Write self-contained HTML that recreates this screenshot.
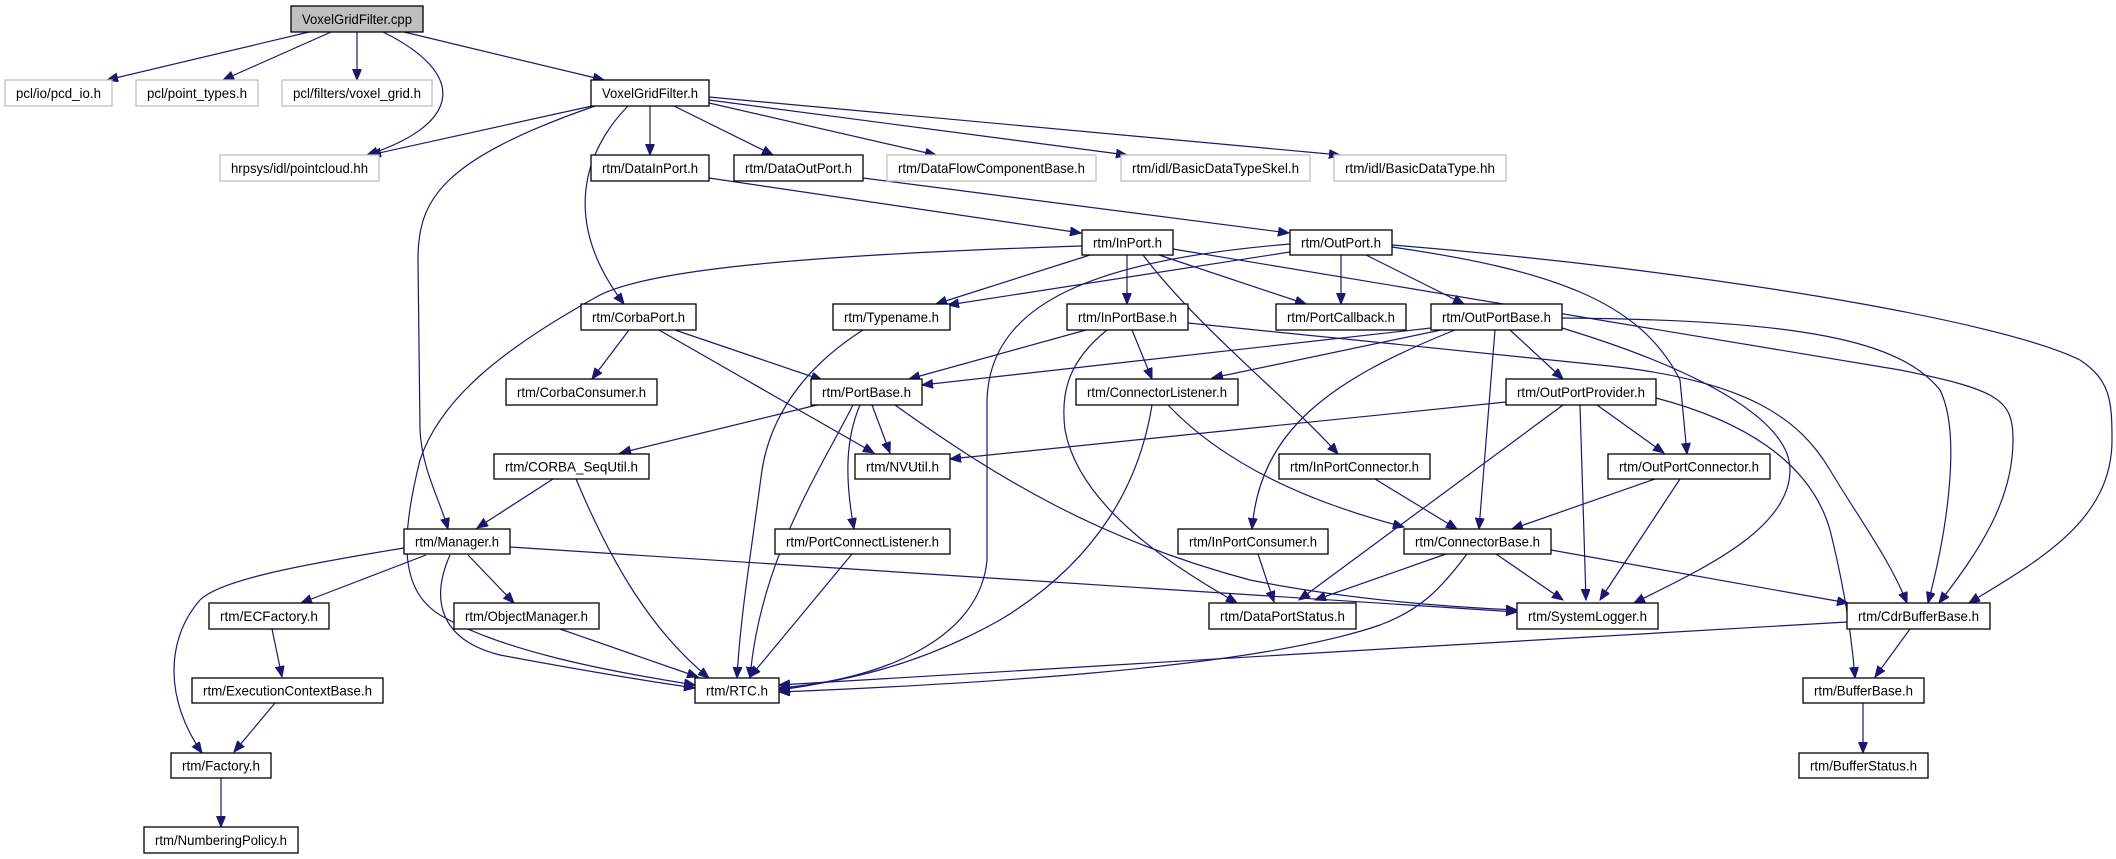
<!DOCTYPE html>
<html><head><meta charset="utf-8"><style>
html,body{margin:0;padding:0;background:#fff;}
svg{display:block;}
text{font-family:"Liberation Sans",sans-serif;font-size:14px;fill:#000;}
.n rect{fill:#fff;stroke:#000;stroke-width:1.3;}
.g rect{fill:#fff;stroke:#bfbfbf;stroke-width:1.3;}
.e path{fill:none;stroke:#191970;stroke-width:1.2;}
</style></head><body>
<svg width="2116" height="859" viewBox="0 0 2116 859" xmlns="http://www.w3.org/2000/svg">
<defs><marker id="a" markerUnits="userSpaceOnUse" markerWidth="12" markerHeight="10" refX="11" refY="4.5" orient="auto"><path d="M0,0 L11,4.5 L0,9 z" fill="#191970" stroke="#191970"/></marker></defs>
<g class="e" marker-end="url(#a)">
<path d="M309,32 L107,80" marker-end="url(#a)"/>
<path d="M331,32 L223,80" marker-end="url(#a)"/>
<path d="M357,32 L357,80" marker-end="url(#a)"/>
<path d="M383,32 C470,75 460,125 367,155" marker-end="url(#a)"/>
<path d="M404,32 L604,80" marker-end="url(#a)"/>
<path d="M592,106 L370,155" marker-end="url(#a)"/>
<path d="M650,106 L650,155" marker-end="url(#a)"/>
<path d="M674,106 L773,155" marker-end="url(#a)"/>
<path d="M709,103 L936,155" marker-end="url(#a)"/>
<path d="M709,100 L1127,155" marker-end="url(#a)"/>
<path d="M709,97 L1340,155" marker-end="url(#a)"/>
<path d="M628,106 C585,150 560,220 624,304" marker-end="url(#a)"/>
<path d="M595,106 C440,160 418,200 418,260 L420,430 C422,470 440,500 448,529" marker-end="url(#a)"/>
<path d="M709,178 L1081,233" marker-end="url(#a)"/>
<path d="M863,178 L1289,233" marker-end="url(#a)"/>
<path d="M1090,255 L936,304" marker-end="url(#a)"/>
<path d="M1127,255 L1127,304" marker-end="url(#a)"/>
<path d="M1159,255 L1306,304" marker-end="url(#a)"/>
<path d="M1143,255 C1200,330 1290,400 1338,454" marker-end="url(#a)"/>
<path d="M1173,249 L1900,370 C2000,390 2013,400 2013,440 C2013,500 1980,550 1939,603" marker-end="url(#a)"/>
<path d="M1082,246 C800,255 650,270 600,295 C500,350 440,400 420,460 C400,540 400,590 440,615 C500,650 600,670 695,685" marker-end="url(#a)"/>
<path d="M1290,252 L948,305" marker-end="url(#a)"/>
<path d="M1341,255 L1341,304" marker-end="url(#a)"/>
<path d="M1366,255 L1464,304" marker-end="url(#a)"/>
<path d="M1290,244 C1100,260 990,300 987,400 L987,560 C980,640 880,680 779,688" marker-end="url(#a)"/>
<path d="M1392,247 C1550,270 1640,300 1680,380 L1687,454" marker-end="url(#a)"/>
<path d="M1392,245 C1700,270 2000,320 2080,360 C2110,380 2112,400 2112,440 C2112,520 2040,560 1969,603" marker-end="url(#a)"/>
<path d="M1086,330 L909,379" marker-end="url(#a)"/>
<path d="M1132,330 L1152,379" marker-end="url(#a)"/>
<path d="M1107,330 C1070,360 1060,390 1065,430 C1080,510 1180,570 1237,603" marker-end="url(#a)"/>
<path d="M1188,323 L1600,365 C1750,380 1800,420 1830,470 C1860,520 1890,560 1907,603" marker-end="url(#a)"/>
<path d="M1431,328 L922,385" marker-end="url(#a)"/>
<path d="M1441,330 L1212,378" marker-end="url(#a)"/>
<path d="M1455,330 C1330,380 1260,430 1252,529" marker-end="url(#a)"/>
<path d="M1495,330 L1479,529" marker-end="url(#a)"/>
<path d="M1510,330 L1563,379" marker-end="url(#a)"/>
<path d="M1562,328 C1700,370 1790,420 1790,470 C1790,530 1700,570 1634,603" marker-end="url(#a)"/>
<path d="M1562,318 C1800,320 1900,340 1940,390 C1960,430 1950,520 1928,603" marker-end="url(#a)"/>
<path d="M1506,402 L950,459" marker-end="url(#a)"/>
<path d="M1597,405 L1664,453" marker-end="url(#a)"/>
<path d="M1580,405 L1586,600" marker-end="url(#a)"/>
<path d="M1563,405 L1299,600" marker-end="url(#a)"/>
<path d="M1656,398 C1740,420 1810,460 1830,530 C1845,590 1852,640 1855,678" marker-end="url(#a)"/>
<path d="M629,330 L592,379" marker-end="url(#a)"/>
<path d="M675,330 L822,380" marker-end="url(#a)"/>
<path d="M659,330 L874,453" marker-end="url(#a)"/>
<path d="M863,330 C800,370 770,420 762,470 C750,560 740,620 737,678" marker-end="url(#a)"/>
<path d="M853,405 C820,470 760,560 750,678" marker-end="url(#a)"/>
<path d="M872,405 L890,453" marker-end="url(#a)"/>
<path d="M817,405 L620,453" marker-end="url(#a)"/>
<path d="M860,405 C845,440 845,480 854,529" marker-end="url(#a)"/>
<path d="M895,405 C1000,480 1100,540 1250,580 C1350,600 1450,607 1517,610" marker-end="url(#a)"/>
<path d="M1168,405 C1220,460 1300,500 1404,527" marker-end="url(#a)"/>
<path d="M1152,405 C1140,480 1100,560 1000,620 C920,665 850,680 779,690" marker-end="url(#a)"/>
<path d="M553,479 L477,528" marker-end="url(#a)"/>
<path d="M576,479 C610,560 650,630 709,678" marker-end="url(#a)"/>
<path d="M404,548 C300,565 220,580 200,600 C165,640 165,700 202,753" marker-end="url(#a)"/>
<path d="M426,555 L301,603" marker-end="url(#a)"/>
<path d="M450,555 C430,600 440,640 500,655 C580,670 640,680 695,688" marker-end="url(#a)"/>
<path d="M468,555 L514,603" marker-end="url(#a)"/>
<path d="M510,547 L1517,612" marker-end="url(#a)"/>
<path d="M560,629 L698,677" marker-end="url(#a)"/>
<path d="M272,629 L282,677" marker-end="url(#a)"/>
<path d="M275,703 L234,752" marker-end="url(#a)"/>
<path d="M221,778 L221,827" marker-end="url(#a)"/>
<path d="M852,554 L750,677" marker-end="url(#a)"/>
<path d="M1258,554 L1274,602" marker-end="url(#a)"/>
<path d="M1375,479 L1457,529" marker-end="url(#a)"/>
<path d="M1655,479 L1512,529" marker-end="url(#a)"/>
<path d="M1680,479 L1600,600" marker-end="url(#a)"/>
<path d="M1446,554 L1315,600" marker-end="url(#a)"/>
<path d="M1496,554 L1563,600" marker-end="url(#a)"/>
<path d="M1551,550 L1848,603" marker-end="url(#a)"/>
<path d="M1467,554 C1440,590 1420,610 1380,625 C1250,670 950,685 779,692" marker-end="url(#a)"/>
<path d="M1847,622 L1400,648 L779,685" marker-end="url(#a)"/>
<path d="M1910,629 L1875,677" marker-end="url(#a)"/>
<path d="M1863,703 L1863,753" marker-end="url(#a)"/>
</g>
<!-- nodes -->
<g class="n"><rect x="291" y="6" width="132" height="26" style="fill:#bfbfbf"/><text x="357" y="24" text-anchor="middle" textLength="110" lengthAdjust="spacingAndGlyphs">VoxelGridFilter.cpp</text></g>
<g class="g"><rect x="5" y="80" width="107" height="26"/><text x="58.5" y="98" text-anchor="middle" textLength="85" lengthAdjust="spacingAndGlyphs">pcl/io/pcd_io.h</text></g>
<g class="g"><rect x="136" y="80" width="122" height="26"/><text x="197" y="98" text-anchor="middle" textLength="100" lengthAdjust="spacingAndGlyphs">pcl/point_types.h</text></g>
<g class="g"><rect x="282" y="80" width="150" height="26"/><text x="357" y="98" text-anchor="middle" textLength="128" lengthAdjust="spacingAndGlyphs">pcl/filters/voxel_grid.h</text></g>
<g class="n"><rect x="591" y="80" width="118" height="26"/><text x="650" y="98" text-anchor="middle" textLength="96" lengthAdjust="spacingAndGlyphs">VoxelGridFilter.h</text></g>
<g class="g"><rect x="220" y="155" width="159" height="26"/><text x="299.5" y="173" text-anchor="middle" textLength="137" lengthAdjust="spacingAndGlyphs">hrpsys/idl/pointcloud.hh</text></g>
<g class="n"><rect x="591" y="155" width="118" height="26"/><text x="650" y="173" text-anchor="middle" textLength="96" lengthAdjust="spacingAndGlyphs">rtm/DataInPort.h</text></g>
<g class="n"><rect x="734" y="155" width="129" height="26"/><text x="798.5" y="173" text-anchor="middle" textLength="107" lengthAdjust="spacingAndGlyphs">rtm/DataOutPort.h</text></g>
<g class="g"><rect x="887" y="155" width="209" height="26"/><text x="991.5" y="173" text-anchor="middle" textLength="187" lengthAdjust="spacingAndGlyphs">rtm/DataFlowComponentBase.h</text></g>
<g class="g"><rect x="1121" y="155" width="189" height="26"/><text x="1215.5" y="173" text-anchor="middle" textLength="167" lengthAdjust="spacingAndGlyphs">rtm/idl/BasicDataTypeSkel.h</text></g>
<g class="g"><rect x="1334" y="155" width="172" height="26"/><text x="1420" y="173" text-anchor="middle" textLength="150" lengthAdjust="spacingAndGlyphs">rtm/idl/BasicDataType.hh</text></g>
<g class="n"><rect x="1082" y="230" width="91" height="25"/><text x="1127.5" y="247.5" text-anchor="middle" textLength="69" lengthAdjust="spacingAndGlyphs">rtm/InPort.h</text></g>
<g class="n"><rect x="1290" y="230" width="102" height="25"/><text x="1341" y="247.5" text-anchor="middle" textLength="80" lengthAdjust="spacingAndGlyphs">rtm/OutPort.h</text></g>
<g class="n"><rect x="581" y="304" width="115" height="26"/><text x="638.5" y="322" text-anchor="middle" textLength="93" lengthAdjust="spacingAndGlyphs">rtm/CorbaPort.h</text></g>
<g class="n"><rect x="833" y="304" width="117" height="26"/><text x="891.5" y="322" text-anchor="middle" textLength="95" lengthAdjust="spacingAndGlyphs">rtm/Typename.h</text></g>
<g class="n"><rect x="1067" y="304" width="121" height="26"/><text x="1127.5" y="322" text-anchor="middle" textLength="99" lengthAdjust="spacingAndGlyphs">rtm/InPortBase.h</text></g>
<g class="n"><rect x="1276" y="304" width="130" height="26"/><text x="1341" y="322" text-anchor="middle" textLength="108" lengthAdjust="spacingAndGlyphs">rtm/PortCallback.h</text></g>
<g class="n"><rect x="1431" y="304" width="131" height="26"/><text x="1496.5" y="322" text-anchor="middle" textLength="109" lengthAdjust="spacingAndGlyphs">rtm/OutPortBase.h</text></g>
<g class="n"><rect x="506" y="379" width="151" height="26"/><text x="581.5" y="397" text-anchor="middle" textLength="129" lengthAdjust="spacingAndGlyphs">rtm/CorbaConsumer.h</text></g>
<g class="n"><rect x="811" y="379" width="111" height="26"/><text x="866.5" y="397" text-anchor="middle" textLength="89" lengthAdjust="spacingAndGlyphs">rtm/PortBase.h</text></g>
<g class="n"><rect x="1076" y="379" width="162" height="26"/><text x="1157" y="397" text-anchor="middle" textLength="140" lengthAdjust="spacingAndGlyphs">rtm/ConnectorListener.h</text></g>
<g class="n"><rect x="1506" y="379" width="150" height="26"/><text x="1581" y="397" text-anchor="middle" textLength="128" lengthAdjust="spacingAndGlyphs">rtm/OutPortProvider.h</text></g>
<g class="n"><rect x="494" y="454" width="155" height="25"/><text x="571.5" y="471.5" text-anchor="middle" textLength="133" lengthAdjust="spacingAndGlyphs">rtm/CORBA_SeqUtil.h</text></g>
<g class="n"><rect x="855" y="454" width="95" height="25"/><text x="902.5" y="471.5" text-anchor="middle" textLength="73" lengthAdjust="spacingAndGlyphs">rtm/NVUtil.h</text></g>
<g class="n"><rect x="1279" y="454" width="151" height="25"/><text x="1354.5" y="471.5" text-anchor="middle" textLength="129" lengthAdjust="spacingAndGlyphs">rtm/InPortConnector.h</text></g>
<g class="n"><rect x="1608" y="454" width="162" height="25"/><text x="1689" y="471.5" text-anchor="middle" textLength="140" lengthAdjust="spacingAndGlyphs">rtm/OutPortConnector.h</text></g>
<g class="n"><rect x="404" y="529" width="106" height="25"/><text x="457" y="546.5" text-anchor="middle" textLength="84" lengthAdjust="spacingAndGlyphs">rtm/Manager.h</text></g>
<g class="n"><rect x="775" y="529" width="175" height="25"/><text x="862.5" y="546.5" text-anchor="middle" textLength="153" lengthAdjust="spacingAndGlyphs">rtm/PortConnectListener.h</text></g>
<g class="n"><rect x="1178" y="529" width="150" height="25"/><text x="1253" y="546.5" text-anchor="middle" textLength="128" lengthAdjust="spacingAndGlyphs">rtm/InPortConsumer.h</text></g>
<g class="n"><rect x="1404" y="529" width="147" height="25"/><text x="1477.5" y="546.5" text-anchor="middle" textLength="125" lengthAdjust="spacingAndGlyphs">rtm/ConnectorBase.h</text></g>
<g class="n"><rect x="209" y="603" width="120" height="26"/><text x="269" y="621" text-anchor="middle" textLength="98" lengthAdjust="spacingAndGlyphs">rtm/ECFactory.h</text></g>
<g class="n"><rect x="454" y="603" width="145" height="26"/><text x="526.5" y="621" text-anchor="middle" textLength="123" lengthAdjust="spacingAndGlyphs">rtm/ObjectManager.h</text></g>
<g class="n"><rect x="1209" y="603" width="147" height="26"/><text x="1282.5" y="621" text-anchor="middle" textLength="125" lengthAdjust="spacingAndGlyphs">rtm/DataPortStatus.h</text></g>
<g class="n"><rect x="1517" y="603" width="141" height="26"/><text x="1587.5" y="621" text-anchor="middle" textLength="119" lengthAdjust="spacingAndGlyphs">rtm/SystemLogger.h</text></g>
<g class="n"><rect x="1847" y="603" width="143" height="26"/><text x="1918.5" y="621" text-anchor="middle" textLength="121" lengthAdjust="spacingAndGlyphs">rtm/CdrBufferBase.h</text></g>
<g class="n"><rect x="192" y="678" width="191" height="25"/><text x="287.5" y="695.5" text-anchor="middle" textLength="169" lengthAdjust="spacingAndGlyphs">rtm/ExecutionContextBase.h</text></g>
<g class="n"><rect x="695" y="678" width="84" height="25"/><text x="737" y="695.5" text-anchor="middle" textLength="62" lengthAdjust="spacingAndGlyphs">rtm/RTC.h</text></g>
<g class="n"><rect x="1803" y="678" width="121" height="25"/><text x="1863.5" y="695.5" text-anchor="middle" textLength="99" lengthAdjust="spacingAndGlyphs">rtm/BufferBase.h</text></g>
<g class="n"><rect x="171" y="753" width="100" height="25"/><text x="221" y="770.5" text-anchor="middle" textLength="78" lengthAdjust="spacingAndGlyphs">rtm/Factory.h</text></g>
<g class="n"><rect x="1799" y="753" width="129" height="25"/><text x="1863.5" y="770.5" text-anchor="middle" textLength="107" lengthAdjust="spacingAndGlyphs">rtm/BufferStatus.h</text></g>
<g class="n"><rect x="144" y="827" width="154" height="26"/><text x="221" y="845" text-anchor="middle" textLength="132" lengthAdjust="spacingAndGlyphs">rtm/NumberingPolicy.h</text></g>
</svg>
</body></html>
